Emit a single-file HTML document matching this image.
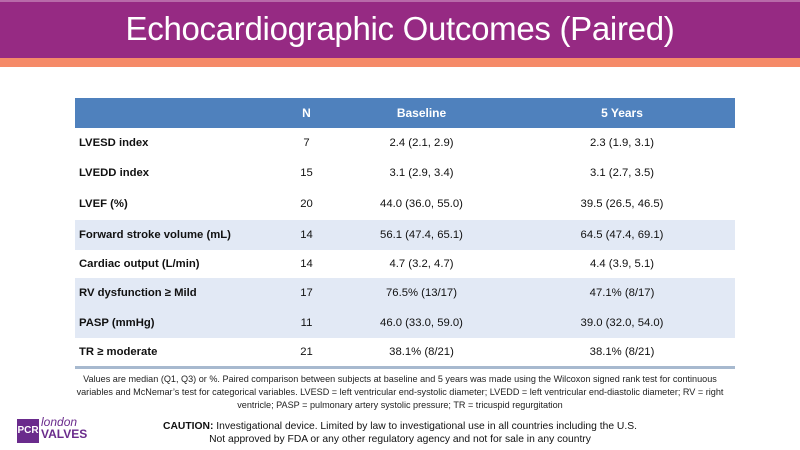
<!DOCTYPE html>
<html><head><style>
body{margin:0;width:800px;height:450px;background:#fff;font-family:"Liberation Sans",sans-serif;position:relative;overflow:hidden}
.hdr{position:absolute;left:0;top:0;width:800px;height:58px;background:#962a83;border-top:2px solid #b86aa9;box-sizing:border-box;color:#fff;font-size:33px;text-align:center;line-height:54px;letter-spacing:-0.3px}
.or{position:absolute;left:0;top:58px;width:800px;height:9px;background:#f58a68}
table{position:absolute;left:75px;top:98px;width:660px;border-collapse:collapse;font-size:11.3px;color:#111}
td,th{padding:0;text-align:center}
th{background:#4f81bd;color:#fff;height:30px;font-size:12px;font-weight:bold}
td:first-child{text-align:left;padding-left:4px;font-weight:bold;width:200px}
tr.l td{background:#e2e9f5}
tbody{border-bottom:3px solid #a7b9cf}
.note{position:absolute;left:70px;width:660px;top:373px;font-size:9.1px;text-align:center;line-height:13px;color:#222}
.cau{position:absolute;left:110px;width:580px;top:420px;font-size:10.3px;text-align:center;line-height:13px;color:#111}
.logo{position:absolute;left:17px;top:419px;width:22px;height:24px;background:#6a2b8c;color:#fff;font-size:10px;font-weight:bold;line-height:24px;text-align:center}
.lt{position:absolute;left:41px;top:416px;color:#6a2b8c;font-size:12px;line-height:12px}
</style></head><body>
<div class="hdr">Echocardiographic Outcomes (Paired)</div>
<div class="or"></div>
<table>
<thead><tr><th></th><th style="width:55px">N</th><th style="width:175px">Baseline</th><th>5 Years</th></tr></thead>
<tbody>
<tr style="height:30px"><td>LVESD index</td><td>7</td><td>2.4 (2.1, 2.9)</td><td>2.3 (1.9, 3.1)</td></tr>
<tr style="height:30px"><td>LVEDD index</td><td>15</td><td>3.1 (2.9, 3.4)</td><td>3.1 (2.7, 3.5)</td></tr>
<tr style="height:32px"><td>LVEF (%)</td><td>20</td><td>44.0 (36.0, 55.0)</td><td>39.5 (26.5, 46.5)</td></tr>
<tr class="l" style="height:30px"><td>Forward stroke volume (mL)</td><td>14</td><td>56.1 (47.4, 65.1)</td><td>64.5 (47.4, 69.1)</td></tr>
<tr style="height:28px"><td>Cardiac output (L/min)</td><td>14</td><td>4.7 (3.2, 4.7)</td><td>4.4 (3.9, 5.1)</td></tr>
<tr class="l" style="height:29px"><td>RV dysfunction ≥ Mild</td><td>17</td><td>76.5% (13/17)</td><td>47.1% (8/17)</td></tr>
<tr class="l" style="height:31px"><td>PASP (mmHg)</td><td>11</td><td>46.0 (33.0, 59.0)</td><td>39.0 (32.0, 54.0)</td></tr>
<tr style="height:29px"><td>TR ≥ moderate</td><td>21</td><td>38.1% (8/21)</td><td>38.1% (8/21)</td></tr>
</tbody></table>
<div class="note">Values are median (Q1, Q3) or %. Paired comparison between subjects at baseline and 5 years was made using the Wilcoxon signed rank test for continuous variables and McNemar’s test for categorical variables. LVESD = left ventricular end-systolic diameter; LVEDD = left ventricular end-diastolic diameter; RV = right ventricle; PASP = pulmonary artery systolic pressure; TR = tricuspid regurgitation</div>
<div class="logo">PCR</div>
<div class="lt"><i>london</i><br><b>VALVES</b></div>
<div class="cau"><b>CAUTION:</b> Investigational device. Limited by law to investigational use in all countries including the U.S.<br>Not approved by FDA or any other regulatory agency and not for sale in any country</div>
</body></html>
